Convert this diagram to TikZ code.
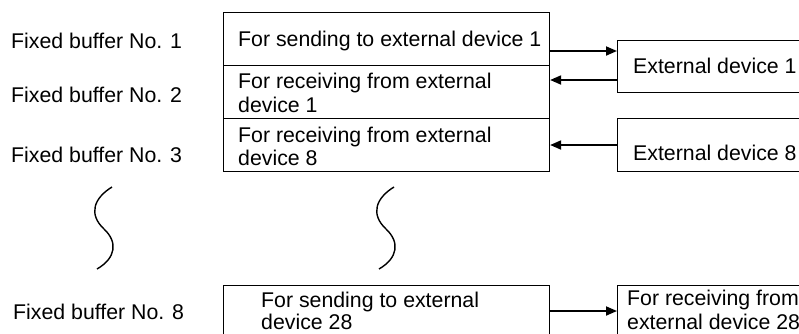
\documentclass[tikz,border=0pt]{standalone}
\usepackage{fontspec}
\setmainfont{Liberation Sans}
\usetikzlibrary{arrows.meta}
\begin{document}
\begin{tikzpicture}[x=1pt,y=-1pt,
  box/.style={draw, line width=1.1pt, inner sep=0pt, anchor=north west},
  lbl/.style={anchor=base west, inner sep=0pt, font=\fontsize{21.3}{24}\selectfont},
  arr/.style={line width=1.8pt, -{Triangle[length=11pt,width=9pt]}},
  wave/.style={line width=1.4pt}]
\clip (0,0) rectangle (799,333);
% boxes
\node[box, minimum width=326pt, minimum height=53pt] (b1) at (223,12) {};
\node[box, minimum width=326pt, minimum height=53pt] (b2) at (223,65) {};
\node[box, minimum width=326pt, minimum height=53pt] (b3) at (223,118) {};
\node[box, minimum width=240pt, minimum height=52pt] (e1) at (617,40) {};
\node[box, minimum width=240pt, minimum height=53pt] (e8) at (617,118) {};
\node[box, minimum width=326pt, minimum height=80pt] (b28) at (223,285) {};
\node[box, minimum width=240pt, minimum height=80pt] (r28) at (617,285) {};
% labels
\node[lbl] (fb1) at (11,48.5) {Fixed buffer No. 1};
\node[lbl] (fb2) at (11,102) {Fixed buffer No. 2};
\node[lbl] (fb3) at (11,162) {Fixed buffer No. 3};
\node[lbl] (fb8) at (13,319) {Fixed buffer No. 8};
\node[lbl] (s1) at (238,46) {For sending to external device 1};
\node[lbl] (r1a) at (238,88) {For receiving from external};
\node[lbl] (r1b) at (238,112) {device 1};
\node[lbl] (r8a) at (238,142) {For receiving from external};
\node[lbl] (r8b) at (238,165) {device 8};
\node[lbl] (e1t) at (633,73) {External device 1};
\node[lbl] (e8t) at (633,160) {External device 8};
\node[lbl] (s28a) at (261,307) {For sending to external};
\node[lbl] (s28b) at (261,329.5) {device 28};
\node[lbl] (r28a) at (627,305.5) {For receiving from};
\node[lbl] (r28b) at (627,329.5) {external device 28};
% arrows
\coordinate (y1) at (0,51);
\coordinate (y2) at (0,80);
\coordinate (y3) at (0,145);
\coordinate (y4) at (0,311);
\draw[arr] (b1.east |- y1) -- (e1.west |- y1);
\draw[arr] (e1.west |- y2) -- (b2.east |- y2);
\draw[arr] (e8.west |- y3) -- (b3.east |- y3);
\draw[arr] (b28.east |- y4) -- (r28.west |- y4);
% break marks
\draw[wave] (112,187) .. controls (94,198) and (88,214) .. (104,229) .. controls (118,242) and (116,258) .. (97,269);
\draw[wave] (394,187) .. controls (376,198) and (370,214) .. (386,229) .. controls (400,242) and (398,258) .. (379,269);
\end{tikzpicture}
\end{document}
